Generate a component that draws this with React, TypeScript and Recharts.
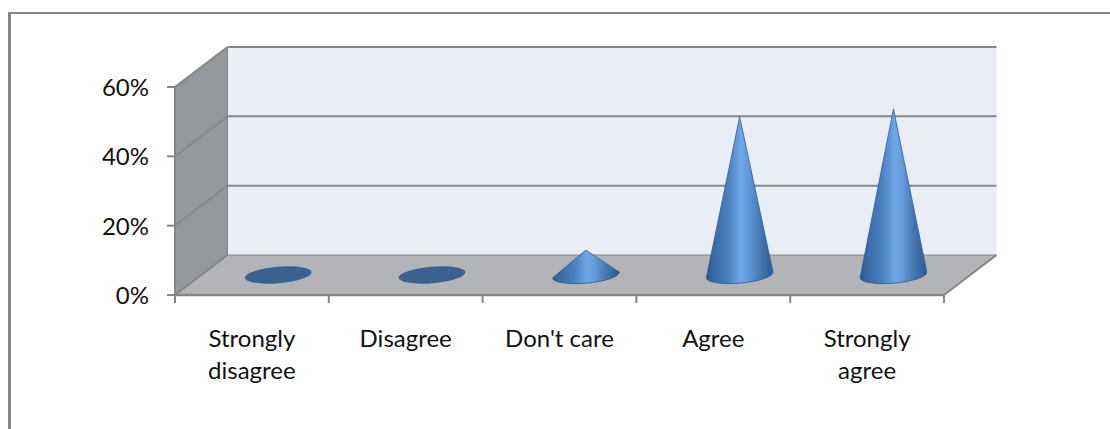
import React from "react";
import { BarChart, Bar, XAxis, YAxis, ReferenceArea } from "recharts";

const categories = ["Strongly disagree", "Disagree", "Don't care", "Agree", "Strongly agree"];
const shares = [0, 0, 7.2, 45.6, 47.9];
const yTicks = [0, 20, 40, 60];
const rows = categories.map((name, i) => ({ name, share: shares[i] }));

const DEPTH_X = 52.5;
const DEPTH_Y = 40;
const EDGE = "#868686";
const TILT = -5;
const RY = 8.2;
const FONT = "Lato";
const FONT_SIZE = 24;

function Room({ x, y, width, height }: any) {
  const bottom = y + height;
  const right = x + width;
  const yAt = (t: number) => bottom - (height * t) / 60;
  const step = width / categories.length;
  return (
    <g>
      <rect x={x + DEPTH_X} y={y - DEPTH_Y} width={width} height={height} fill="#e9edf6" />
      <polygon
        points={`${x},${y} ${x + DEPTH_X},${y - DEPTH_Y} ${x + DEPTH_X},${bottom - DEPTH_Y} ${x},${bottom}`}
        fill="#94979b"
      />
      <polygon
        points={`${x},${bottom} ${right},${bottom} ${right + DEPTH_X},${bottom - DEPTH_Y} ${x + DEPTH_X},${bottom - DEPTH_Y}`}
        fill="#b2b4b7"
      />
      {yTicks.map((t) => (
        <g key={t}>
          {t > 0 && (
            <line x1={x + DEPTH_X} x2={right + DEPTH_X} y1={yAt(t) - DEPTH_Y} y2={yAt(t) - DEPTH_Y} stroke={EDGE} strokeWidth={2} />
          )}
          <line x1={x} x2={x + DEPTH_X} y1={yAt(t)} y2={yAt(t) - DEPTH_Y} stroke={EDGE} strokeWidth={t === 0 || t === 60 ? 2 : 1.5} />
          <line x1={x - 8} x2={x} y1={yAt(t)} y2={yAt(t)} stroke={EDGE} strokeWidth={2} />
        </g>
      ))}
      <line x1={x + DEPTH_X} x2={right + DEPTH_X} y1={bottom - DEPTH_Y} y2={bottom - DEPTH_Y} stroke={EDGE} strokeWidth={1} />
      <line x1={x + DEPTH_X} x2={x + DEPTH_X} y1={y - DEPTH_Y} y2={bottom - DEPTH_Y} stroke={EDGE} strokeWidth={1} />
      <line x1={x} x2={x} y1={y} y2={bottom} stroke={EDGE} strokeWidth={2} />
      <line x1={x} x2={right} y1={bottom} y2={bottom} stroke={EDGE} strokeWidth={2.5} />
      <line x1={right} x2={right + DEPTH_X} y1={bottom} y2={bottom - DEPTH_Y} stroke={EDGE} strokeWidth={2} />
      {categories.concat("").map((_, i) => (
        <line key={i} x1={x + i * step} x2={x + i * step} y1={bottom} y2={bottom + 8} stroke={EDGE} strokeWidth={2} />
      ))}
    </g>
  );
}

function Cone({ x, y, width, height, share }: any) {
  const rx = width / 2;
  const cx = x + rx + DEPTH_X / 2;
  const baseY = y + height - DEPTH_Y / 2;
  const apexY = y - DEPTH_Y / 2;
  const rad = (TILT * Math.PI) / 180;
  const dx = rx * Math.cos(rad);
  const dy = rx * Math.sin(rad);
  if (!share) {
    return (
      <ellipse cx={cx} cy={baseY} rx={rx} ry={RY} fill="#3b6190" transform={`rotate(${TILT} ${cx} ${baseY})`} />
    );
  }
  return (
    <path
      d={`M${cx},${apexY} L${cx - dx},${baseY - dy} A${rx},${RY} ${TILT} 0 0 ${cx + dx},${baseY + dy} Z`}
      fill="url(#coneFill)"
      stroke="#2f5c94"
      strokeWidth={0.8}
    />
  );
}

function CategoryTick({ x, y, payload }: any) {
  const text: string = payload.value;
  const lines = text.length > 12 ? text.split(" ") : [text];
  return (
    <text x={x} y={y} textAnchor="middle" fontFamily={FONT} fontSize={FONT_SIZE} fill="#111">
      {lines.map((line, i) => (
        <tspan key={i} x={x} dy={i === 0 ? 0 : 32}>
          {line}
        </tspan>
      ))}
    </text>
  );
}

function ValueTick({ x, y, payload }: any) {
  return (
    <text x={x} y={y + 9} textAnchor="end" fontFamily={FONT} fontSize={FONT_SIZE} fill="#111">
      {`${payload.value}%`}
    </text>
  );
}

export default function App() {
  return (
    <div style={{ position: "absolute", left: 0, top: 0, width: 1110, height: 429, overflow: "hidden", background: "#fff" }}>
      <div
        style={{
          position: "absolute",
          left: 8,
          top: 12,
          right: 0,
          bottom: 0,
          borderTop: `2px solid ${EDGE}`,
          borderLeft: `3px solid ${EDGE}`,
        }}
      />
      <div style={{ position: "absolute", left: 0, top: 0 }}>
        <BarChart
          width={1110}
          height={429}
          data={rows}
          margin={{ left: 115, right: 166, top: 87, bottom: 94 }}
          barCategoryGap={43.5}
        >
          <defs>
            <linearGradient id="coneFill" x1="0" x2="1" y1="0" y2="0">
              <stop offset="0" stopColor="#2c588c" />
              <stop offset="0.12" stopColor="#3a6ba6" />
              <stop offset="0.32" stopColor="#4a7fbe" />
              <stop offset="0.52" stopColor="#6ea6e8" />
              <stop offset="0.62" stopColor="#659cdc" />
              <stop offset="0.8" stopColor="#4678b4" />
              <stop offset="1" stopColor="#2d5a90" />
            </linearGradient>
          </defs>
          <XAxis
            dataKey="name"
            axisLine={false}
            tickLine={false}
            height={40}
            tickMargin={0}
            interval={0}
            tick={(p: any) => <CategoryTick {...p} y={347} />}
          />
          <YAxis
            width={60}
            domain={[0, 60]}
            ticks={yTicks}
            axisLine={false}
            tickLine={false}
            tickMargin={20}
            tick={<ValueTick />}
          />
          <ReferenceArea y1={0} y2={60} shape={<Room />} ifOverflow="visible" />
          <Bar dataKey="share" isAnimationActive={false} shape={<Cone />} />
        </BarChart>
      </div>
    </div>
  );
}
